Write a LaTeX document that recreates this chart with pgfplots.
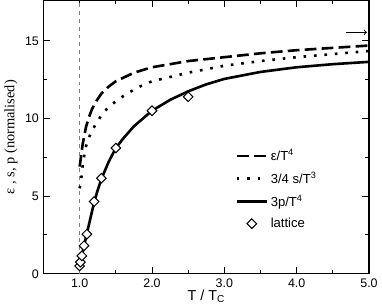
\documentclass[border=0pt]{standalone}
\usepackage{fontspec}
\setmainfont{Liberation Sans}
\newfontfamily\seriffont{Liberation Serif}
\usepackage{pgfplots}
\pgfplotsset{compat=1.18}
\pgfplotsset{
  linelegend/.style={legend image code/.code={\draw[##1] (0pt,0pt) -- (23pt,0pt);}},
  marklegend/.style={legend image code/.code={\draw[mark repeat=2,mark phase=2,##1] plot coordinates {(0pt,0pt) (11.5pt,0pt) (23pt,0pt)};}},
}
\begin{document}
\begin{tikzpicture}
\begin{axis}[
  scale only axis,
  width=249pt, height=209pt,
  xmin=0.5, xmax=5.0, ymin=0, ymax=17.6,
  xtick={1,2,3,4,5},
  minor xtick={1.5,2.5,3.5,4.5},
  ytick={0,5,10,15},
  minor ytick={2.5,7.5,12.5},
  xticklabel style={/pgf/number format/.cd,fixed,fixed zerofill,precision=1},
  /pgf/number format/assume math mode=true,
  tick align=inside,
  major tick length=5pt, minor tick length=3pt,
  every tick/.style={black, line width=0.7pt},
  axis line style={line width=0.8pt},
  tick label style={font=\fontsize{9.5}{11}\selectfont},
  label style={font=\fontsize{11}{13}\selectfont},
  xlabel={T / T\textsubscript{C}},
  ylabel={\seriffont ε , s, p (normalised)},
  xlabel style={yshift=5pt},
  ylabel style={yshift=-1pt},
  legend style={draw=none, fill=none, at={(0.577,0.475)}, anchor=north west,
    font=\fontsize{10}{12}\selectfont, row sep=3.5pt},
  legend cell align=left,
  linelegend,
]
\addplot[forget plot, gray, dashed, line width=0.4pt] coordinates {(1,0) (1,17.6)};
\addplot[black, line width=2pt, dash pattern=on 9pt off 4pt] coordinates {
(1.0,6.9) (1.02,7.6) (1.04,8.3) (1.06,8.8) (1.09,9.5) (1.13,10.1) (1.17,10.6)
(1.22,11.05) (1.3,11.6) (1.4,12.05) (1.5,12.4) (1.75,12.95) (2.0,13.3)
(2.5,13.7) (3.0,13.95) (3.5,14.2) (4.0,14.4) (4.5,14.55) (5.0,14.7)};
\addlegendentry{ε/T\textsuperscript{4}}
\addplot[black, line width=2pt, dash pattern=on 2pt off 6pt] coordinates {
(1.0,5.5) (1.02,6.0) (1.04,6.9) (1.08,8.1) (1.12,8.7) (1.17,9.2) (1.23,9.7)
(1.3,10.2) (1.4,10.75) (1.5,11.1) (1.65,11.6) (1.85,12.1) (2.0,12.4)
(2.5,12.95) (3.0,13.4) (3.5,13.7) (4.0,13.95) (4.5,14.15) (5.0,14.35)};
\addlegendentry{3/4 s/T\textsuperscript{3}}
\addplot[black, line width=2pt] coordinates {
(1.0,0.4) (1.02,0.8) (1.05,1.6) (1.1,2.6) (1.15,3.6) (1.2,4.6) (1.25,5.4)
(1.3,6.1) (1.4,7.2) (1.5,8.1) (1.6,8.7) (1.75,9.5) (1.9,10.1) (2.0,10.5)
(2.25,11.2) (2.5,11.75) (2.75,12.2) (3.0,12.55) (3.5,13.0)
(4.0,13.3) (4.5,13.5) (5.0,13.65)};
\addlegendentry{3p/T\textsuperscript{4}}
\addplot[only marks, mark=square*, mark size=2.6pt,
  mark options={rotate=45, fill=white, draw=black, line width=0.8pt},
  marklegend] coordinates {
(1.0,0.5) (1.01,0.75) (1.03,1.15) (1.06,1.8) (1.1,2.55) (1.2,4.65) (1.3,6.15)
(1.5,8.1) (2.0,10.5) (2.5,11.4)};
\addlegendentry{lattice}
\draw[->, line width=0.7pt] (axis cs:4.68,15.55) -- (axis cs:4.97,15.55);
\end{axis}
\end{tikzpicture}
\end{document}
